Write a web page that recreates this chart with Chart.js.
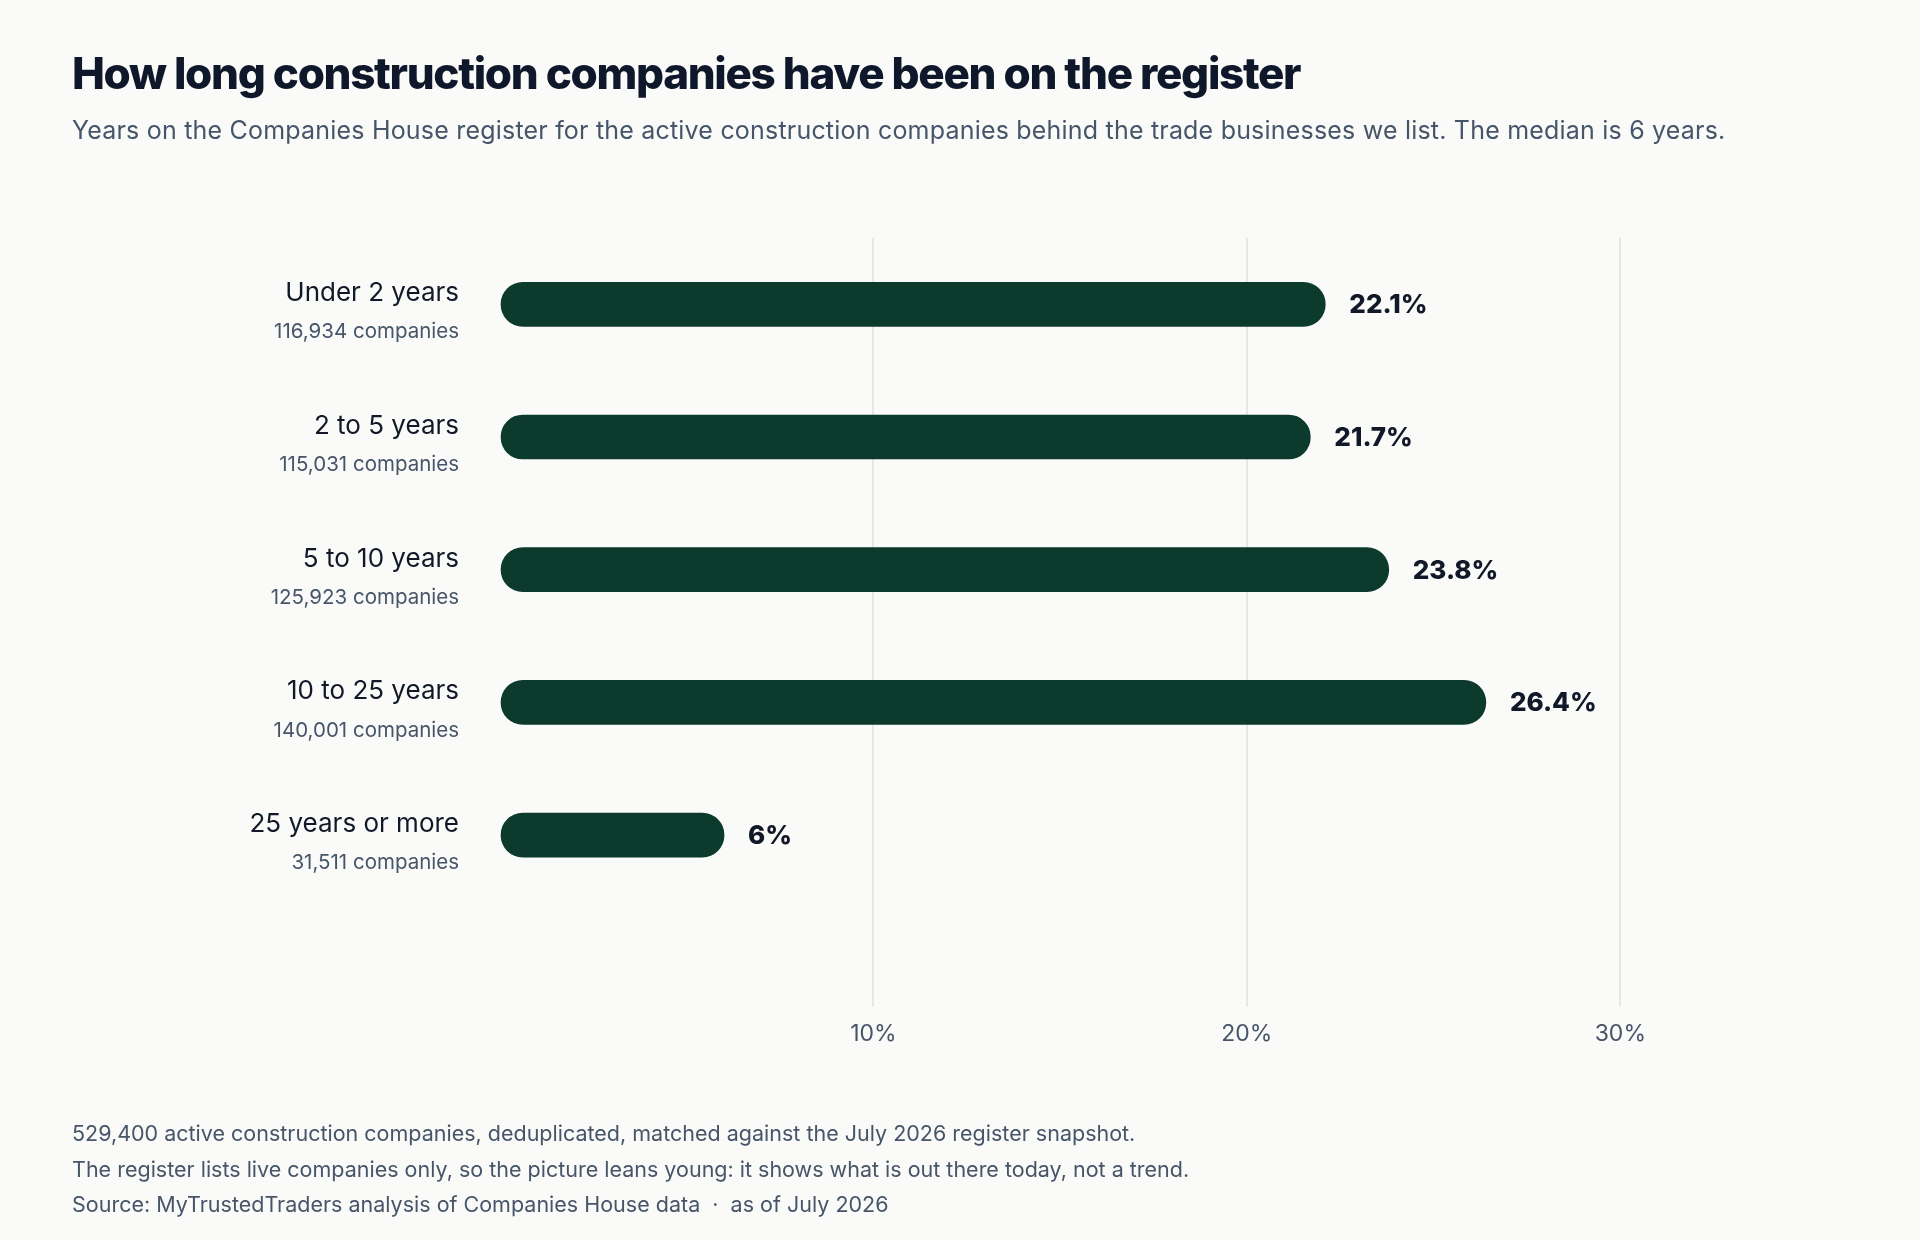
<!DOCTYPE html>
<html>
<head>
<meta charset="utf-8">
<script src="https://cdn.jsdelivr.net/npm/chart.js@4.4.1/dist/chart.umd.min.js"></script>
<style>
  html, body { margin: 0; padding: 0; background: #fafaf9; }
  body { width: 1920px; height: 1240px; position: relative; overflow: hidden; font-family: Inter, "Noto Sans", sans-serif; }
  #wrap { position: absolute; left: 0; top: 0; width: 1920px; height: 1240px; }
  .t { position: absolute; left: 72px; white-space: nowrap; line-height: 1; }
  #title { top: 51px; font-size: 44px; font-weight: 800; color: #0f172a; letter-spacing: -0.03em; }
  #subtitle { top: 118px; font-size: 25px; font-weight: 400; color: #475569; letter-spacing: 0.008em; }
  .foot { font-size: 21.5px; color: #475569; letter-spacing: 0; }
</style>
</head>
<body>
<div id="wrap"><canvas id="c" width="1920" height="1240"></canvas></div>
<div class="t" id="title">How long construction companies have been on the register</div>
<div class="t" id="subtitle">Years on the Companies House register for the active construction companies behind the trade businesses we list. The median is 6 years.</div>
<div class="t foot" style="top:1123px">529,400 active construction companies, deduplicated, matched against the July 2026 register snapshot.</div>
<div class="t foot" style="top:1159px">The register lists live companies only, so the picture leans young: it shows what is out there today, not a trend.</div>
<div class="t foot" style="top:1194px">Source: MyTrustedTraders analysis of Companies House data &nbsp;·&nbsp; as of July 2026</div>
<script>
const categories = ["Under 2 years", "2 to 5 years", "5 to 10 years", "10 to 25 years", "25 years or more"];
const companyCounts = ["116,934 companies", "115,031 companies", "125,923 companies", "140,001 companies", "31,511 companies"];
const shares = [22.1, 21.7, 23.8, 26.4, 6];
const valueLabels = ["22.1%", "21.7%", "23.8%", "26.4%", "6%"];
const xTicks = [10, 20, 30];

const FONT = 'Inter, "Noto Sans", sans-serif';

const labelPlugin = {
  id: 'labels',
  afterDatasetsDraw(chart) {
    const ctx = chart.ctx;
    const yScale = chart.scales.y;
    const meta = chart.getDatasetMeta(0);
    ctx.save();
    categories.forEach((c, i) => {
      const y = yScale.getPixelForValue(i);
      ctx.textAlign = 'right';
      ctx.textBaseline = 'middle';
      ctx.fillStyle = '#111827';
      ctx.font = '400 26px ' + FONT;
      ctx.fillText(c, 459, y - 11);
      ctx.fillStyle = '#475569';
      ctx.font = '400 20.5px ' + FONT;
      ctx.fillText(companyCounts[i], 459, y + 28);
    });
    meta.data.forEach((bar, i) => {
      ctx.textAlign = 'left';
      ctx.textBaseline = 'middle';
      ctx.fillStyle = '#111827';
      ctx.font = '800 26px ' + FONT;
      ctx.fillText(valueLabels[i], bar.x + 24, bar.y + 1);
    });
    ctx.restore();
  }
};

new Chart(document.getElementById('c'), {
  type: 'bar',
  data: {
    labels: categories,
    datasets: [{
      data: shares,
      backgroundColor: '#0c3b2e',
      barThickness: 44,
      borderRadius: 22,
      borderSkipped: false
    }]
  },
  options: {
    indexAxis: 'y',
    responsive: false,
    animation: false,
    devicePixelRatio: 1,
    layout: { padding: { left: 0, top: 238, right: 225, bottom: 178 } },
    plugins: { legend: { display: false }, tooltip: { enabled: false } },
    scales: {
      x: {
        type: 'linear',
        min: 0,
        max: 32,
        afterBuildTicks(scale) { scale.ticks = [0].concat(xTicks).map(v => ({ value: v })); },
        border: { display: false },
        grid: {
          color: (ctx) => (ctx.tick && ctx.tick.value === 0) ? 'rgba(0,0,0,0)' : '#e6e6e4',
          lineWidth: 2,
          drawTicks: true,
          tickLength: 105,
          tickColor: (ctx) => (ctx.tick && ctx.tick.value === 0) ? 'rgba(0,0,0,0)' : '#e6e6e4'
        },
        ticks: {
          padding: 14,
          color: '#475569',
          font: { family: FONT, size: 23 },
          callback: (v) => v === 0 ? '' : v + '%'
        }
      },
      y: {
        grid: { display: false },
        border: { display: false },
        ticks: { display: false },
        afterFit(scale) { scale.width = 500; }
      }
    }
  },
  plugins: [labelPlugin]
});
</script>
</body>
</html>
